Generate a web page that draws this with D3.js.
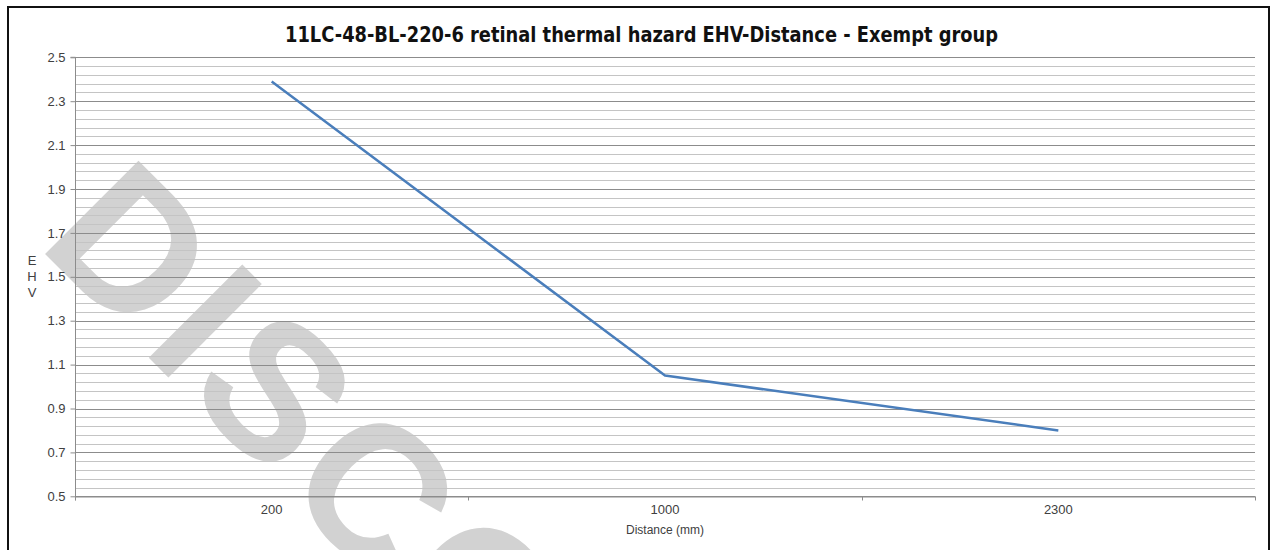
<!DOCTYPE html>
<html>
<head>
<meta charset="utf-8">
<script src="https://cdn.jsdelivr.net/npm/d3@7"></script>
<style>
  html, body { margin: 0; padding: 0; background: #fff; }
  svg { display: block; }
</style>
</head>
<body>
<svg id="chart" width="1279" height="550"></svg>
<script>
const title = "11LC-48-BL-220-6 retinal thermal hazard EHV-Distance - Exempt group";
const categories = ["200", "1000", "2300"];
const ehvValues = [2.39, 1.05, 0.80];
const yTickLabels = ["0.5", "0.7", "0.9", "1.1", "1.3", "1.5", "1.7", "1.9", "2.1", "2.3", "2.5"];
const xAxisTitle = "Distance (mm)";
const yAxisTitle = ["E", "H", "V"];
const watermark = "DISCONTINUED";

const svg = d3.select("#chart");
const L = 75, R = 1255, T = 57.3, B = 496.3;

const x = d3.scaleBand().domain(categories).range([L, R]).padding(0);
const y = d3.scaleLinear().domain([0.5, 2.5]).range([B, T]);

// watermark (behind everything)
svg.append("text")
  .attr("transform", "translate(36,245) rotate(45)")
  .attr("font-family", "'Liberation Sans', Arial, sans-serif")
  .attr("font-weight", "bold")
  .attr("font-size", 192)
  .attr("letter-spacing", 8)
  .attr("fill", "#d2d2d2")
  .text(watermark);

// minor gridlines
const minor = d3.range(0, 51).map(i => 0.5 + i * 0.04);
svg.append("g").selectAll("line").data(minor).join("line")
  .attr("x1", L).attr("x2", R)
  .attr("y1", d => Math.round(y(d)) + 0.5).attr("y2", d => Math.round(y(d)) + 0.5)
  .attr("stroke", "#c4c4c4").attr("stroke-width", 1);

// major gridlines
const major = yTickLabels.map(Number);
svg.append("g").selectAll("line").data(major).join("line")
  .attr("x1", L).attr("x2", R)
  .attr("y1", d => Math.round(y(d)) + 0.5).attr("y2", d => Math.round(y(d)) + 0.5)
  .attr("stroke", "#8c8c8c").attr("stroke-width", 1);

// y axis
const yAxis = d3.axisLeft(y).tickValues(major).tickFormat((d, i) => yTickLabels[i]).tickSize(5).tickPadding(5);
const gy = svg.append("g").attr("transform", `translate(${L + 0.5},0)`).call(yAxis);
gy.select(".domain").attr("stroke", "#8c8c8c").attr("d", `M-5,${T}H0V${B + 4}`);
gy.selectAll(".tick line").attr("stroke", "#8c8c8c");
gy.selectAll(".tick text").attr("fill", "#404040")
  .attr("font-family", "'Liberation Sans', Arial, sans-serif").attr("font-size", 13);

// x axis
const gx = svg.append("g").attr("transform", `translate(0,${Math.round(B) + 0.5})`)
  .call(d3.axisBottom(x).tickSize(0).tickPadding(8));
gx.select(".domain").attr("stroke", "#8c8c8c");
gx.selectAll(".tick text").attr("fill", "#404040")
  .attr("font-family", "'Liberation Sans', Arial, sans-serif").attr("font-size", 13);
// category boundary ticks
const bounds = categories.map(c => x(c)).concat([R]);
gx.append("g").selectAll("line").data(bounds).join("line")
  .attr("x1", d => Math.round(d) + 0.5).attr("x2", d => Math.round(d) + 0.5)
  .attr("y1", 0).attr("y2", 4).attr("stroke", "#8c8c8c");

// data line
const line = d3.line().x((d, i) => x(categories[i]) + x.bandwidth() / 2).y(d => y(d));
svg.append("path").datum(ehvValues)
  .attr("d", line).attr("fill", "none")
  .attr("stroke", "#4a7ebb").attr("stroke-width", 2.5).attr("stroke-linejoin", "round");

// axis titles
svg.append("text").attr("x", (L + R) / 2).attr("y", 534).attr("text-anchor", "middle")
  .attr("font-family", "'Liberation Sans', Arial, sans-serif").attr("font-size", 12)
  .attr("fill", "#404040").text(xAxisTitle);
svg.append("g").selectAll("text").data(yAxisTitle).join("text")
  .attr("x", 32).attr("y", (d, i) => 265 + i * 16).attr("text-anchor", "middle")
  .attr("font-family", "'Liberation Sans', Arial, sans-serif").attr("font-size", 13)
  .attr("fill", "#404040").text(d => d);

// title
svg.append("text").attr("x", 641.5).attr("y", 42).attr("text-anchor", "middle")
  .attr("font-family", "'Liberation Sans Narrow', 'DejaVu Sans Condensed', Arial, sans-serif")
  .attr("font-weight", "bold").attr("font-size", 22)
  .attr("textLength", 713).attr("lengthAdjust", "spacingAndGlyphs")
  .attr("fill", "#111").text(title);

// outer frame
svg.append("rect").attr("x", 8).attr("y", 7).attr("width", 1261).attr("height", 600)
  .attr("fill", "none").attr("stroke", "#111").attr("stroke-width", 2);
</script>
</body>
</html>
